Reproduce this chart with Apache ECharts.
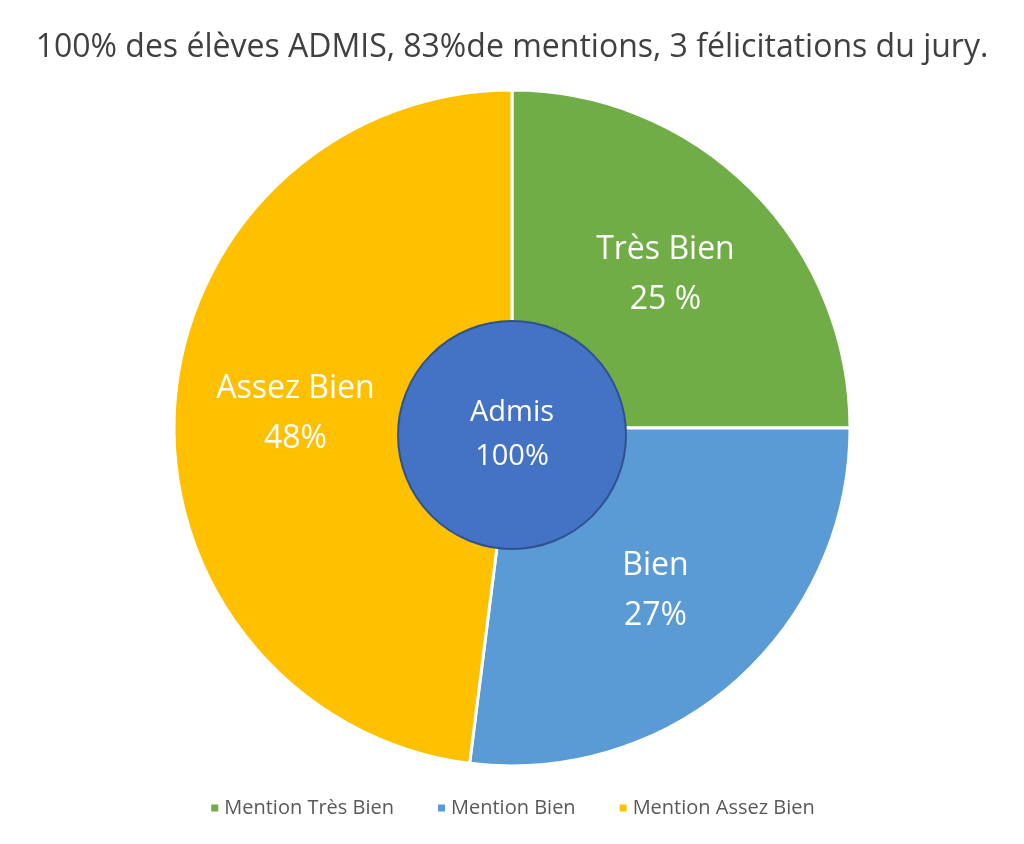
<!DOCTYPE html>
<html>
<head>
<meta charset="utf-8">
<script src="https://cdn.jsdelivr.net/npm/echarts@6/dist/echarts.min.js"></script>
<style>
  html, body { margin: 0; padding: 0; background: #fff; }
  #main { width: 1024px; height: 844px; }
</style>
</head>
<body>
<div id="main"></div>
<script>
var titleText = '100% des élèves ADMIS, 83%de mentions, 3 félicitations du jury.';

// mentions, in clockwise order from the top
var mentionNames = ['Mention Très Bien', 'Mention Bien', 'Mention Assez Bien'];
var mentionLabels = ['Très Bien\n25 %', 'Bien\n27%', 'Assez Bien\n48%'];
var mentionValues = [25, 27, 48];
var mentionColors = ['#70ad47', '#5b9bd5', '#ffc000'];

// centre disc
var admisLabel = 'Admis\n100%';
var admisValue = 100;

var fontFamily = '"Open Sans", "Noto Sans", sans-serif';

var chart = echarts.init(document.getElementById('main'));

var mentionData = mentionNames.map(function (name, i) {
    return {
        name: name,
        value: mentionValues[i],
        itemStyle: { color: mentionColors[i] },
        label: { formatter: mentionLabels[i] }
    };
});

var option = {
    backgroundColor: '#fff',
    animation: false,
    title: {
        text: titleText,
        left: 'center',
        top: 27,
        textStyle: {
            fontFamily: fontFamily,
            fontWeight: 'normal',
            fontSize: 32,
            color: '#404040'
        }
    },
    legend: {
        data: mentionNames,
        bottom: 21,
        left: 'center',
        icon: 'rect',
        itemWidth: 9,
        itemHeight: 9,
        itemGap: 42,
        textStyle: {
            fontFamily: fontFamily,
            fontSize: 20,
            color: '#595959'
        }
    },
    series: [
        {
            type: 'pie',
            center: [512, 428],
            radius: [90, 338],
            startAngle: 90,
            clockwise: true,
            silent: true,
            itemStyle: { borderColor: '#fff', borderWidth: 3 },
            label: {
                position: 'inside',
                color: '#fff',
                fontFamily: fontFamily,
                fontSize: 32,
                lineHeight: 50
            },
            labelLine: { show: false },
            data: mentionData
        },
        {
            type: 'pie',
            center: [512, 435],
            radius: [0, 114],
            silent: true,
            z: 5,
            itemStyle: { color: '#4472c4', borderColor: '#2f528f', borderWidth: 2 },
            label: {
                position: 'center',
                color: '#fff',
                fontFamily: fontFamily,
                fontSize: 29,
                lineHeight: 44
            },
            labelLine: { show: false },
            data: [{ name: 'Admis', value: admisValue, label: { formatter: admisLabel } }]
        }
    ]
};

chart.setOption(option);
</script>
</body>
</html>
